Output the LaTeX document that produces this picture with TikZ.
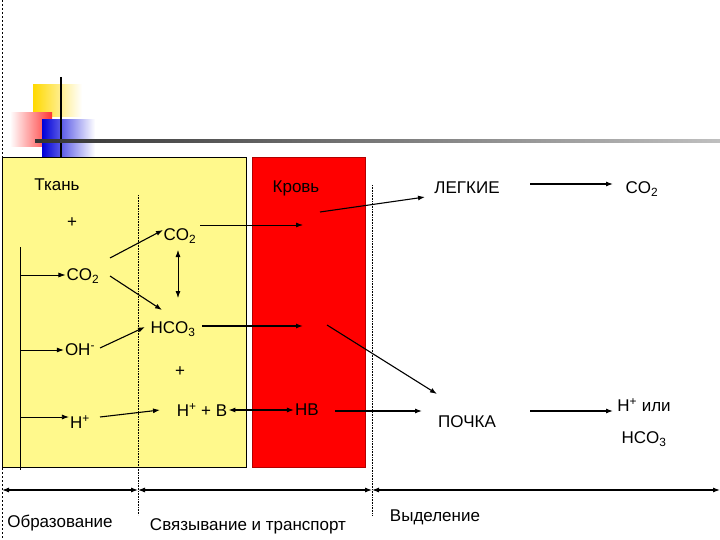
\documentclass[tikz,border=0pt]{standalone}
\usepackage{fontspec}
\setmainfont{Liberation Sans}
\usetikzlibrary{arrows.meta}
\begin{document}
\begin{tikzpicture}[x=1pt,y=-1pt,
  t/.style={font=\fontsize{17}{19}\selectfont,inner sep=1pt},
  a/.style={-{Latex[length=7pt,width=5pt]},line width=1.1pt},
  aa/.style={{Latex[length=7pt,width=5pt]}-{Latex[length=7pt,width=5pt]},line width=1.1pt},
  dd/.style={densely dotted,line width=0.6pt}]
\useasboundingbox (0,0) rectangle (720,540);
% logo
\shade[left color=yellow!70!orange,right color=white] (33,85) rectangle (82,117);
\shade[left color=white,right color=red!80] (10,113) rectangle (52,147);
\shade[left color=blue!85!black,right color=white] (42,120) rectangle (95,157);
\draw[line width=2pt] (61,77) -- (61,157);
\shade[left color=black!80,right color=black!25] (35,139.5) rectangle (720,142.5);
% boxes
\draw[fill=yellow!45,line width=0.8pt] (2,157) rectangle (246,467);
\draw[fill=red,draw=red!70!black,line width=0.6pt] (252,157) rectangle (365,467);
\draw[dash pattern=on 2pt off 2pt] (2,0) -- (2,540);
\draw[dd] (138,195) -- (138,515);
\draw[dd] (372,185) -- (372,515);
% texts
\node[t] (tk) at (57,185) {Ткань};
\node[t] (kr) at (296,188) {Кровь};
\node[t] (lg) at (467,188) {ЛЕГКИЕ};
\node[t] (co2r) at (642,189) {CO\textsubscript{2}};
\node[t] (p1) at (72,223) {+};
\node[t] (co2u) at (180,236) {CO\textsubscript{2}};
\node[t] (co2l) at (83,276) {CO\textsubscript{2}};
\node[t] (oh) at (80,350) {OH\textsuperscript{-}};
\node[t] (hco3) at (173,329) {HCO\textsubscript{3}};
\node[t] (p2) at (180,372) {+};
\node[t] (h) at (80,422) {H\textsuperscript{+}};
\node[t] (hb1) at (202,410) {H\textsuperscript{+} + B};
\node[t] (hb) at (307,410) {HB};
\node[t] (po) at (467,422) {ПОЧКА};
\node[t] (hi) at (644,405) {H\textsuperscript{+} или};
\node[t] (hc2) at (644,439) {HCO\textsubscript{3}};
\node[t] (ob) at (60,523) {Образование};
\node[t] (sv) at (248,526) {Связывание и транспорт};
\node[t] (vy) at (435,517) {Выделение};
% coordinates
\coordinate (v1) at (20,247); \coordinate (v2) at (20,470);
\draw[line width=0.8pt] (v1) -- (v2);
\coordinate (c1) at (20,275); \coordinate (c2) at (20,350); \coordinate (c3) at (20,417);
\draw[a,line width=0.8pt] (c1) -- (co2l.west|-c1);
\draw[a,line width=0.8pt] (c2) -- (oh.west|-c2);
\draw[a,line width=0.8pt] (c3) -- (h.west|-c3);
\coordinate (e1) at (110,258); \coordinate (e2) at (163,230);
\draw[a] (e1) -- (e2);
\coordinate (e3) at (110,276); \coordinate (e4) at (162,310);
\draw[a] (e3) -- (e4);
\coordinate (e5) at (100,348); \coordinate (e6) at (145,327);
\draw[a] (e5) -- (e6);
\coordinate (e7) at (178,250); \coordinate (e8) at (178,298);
\draw[aa,line width=0.8pt] (e7) -- (e8);
\coordinate (f0) at (200,225); \coordinate (f1) at (303,225);
\draw[a,line width=0.8pt] (f0) -- (f1);
\coordinate (f9) at (202,326); \coordinate (f2) at (303,326);
\draw[a,line width=1.3pt] (f9) -- (f2);
\coordinate (f3) at (320,212); \coordinate (f4) at (425,197);
\draw[a] (f3) -- (f4);
\coordinate (f5) at (327,325); \coordinate (f6) at (437,394);
\draw[a] (f5) -- (f6);
\coordinate (g1) at (100,417); \coordinate (g2) at (160,410);
\draw[a] (g1) -- (g2);
\draw[aa] (hb1.east) -- (hb.west);
\coordinate (g0) at (335,411); \coordinate (g3) at (422,411);
\draw[a] (g0) -- (g3);
\coordinate (g4) at (530,411); \coordinate (g5) at (613,411);
\draw[a] (g4) -- (g5);
\coordinate (g6) at (530,184); \coordinate (g7) at (613,184);
\draw[a] (g6) -- (g7);
% bottom double arrows
\coordinate (b0) at (2,490); \coordinate (b1) at (138,490);
\coordinate (b2) at (372,490); \coordinate (b3) at (720,490);
\draw[aa] (b0) -- (b1);
\draw[aa] (b1) -- (b2);
\draw[aa] (b2) -- (b3);
\end{tikzpicture}
\end{document}
